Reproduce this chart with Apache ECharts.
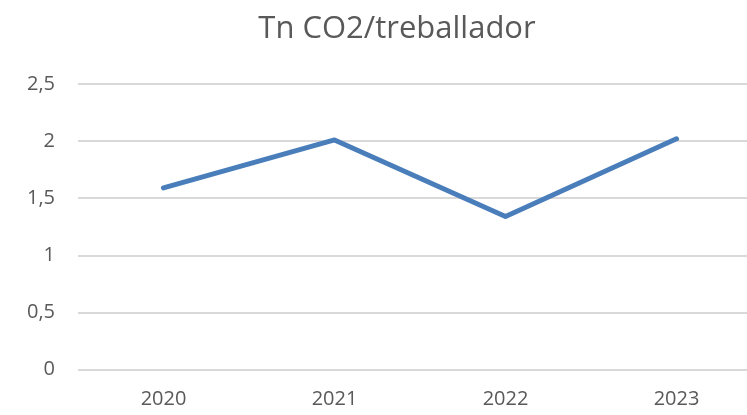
<!DOCTYPE html>
<html>
<head>
<meta charset="utf-8">
<script src="https://cdn.jsdelivr.net/npm/echarts@6/dist/echarts.min.js"></script>
<style>
  html, body { margin: 0; padding: 0; background: #fff; overflow: hidden; }
  /* wider than the window: the original plot area runs past the right edge */
  #chart { width: 765px; height: 415px; }
</style>
</head>
<body>
<div id="chart"></div>
<script>
// Chart data
const years = ['2020', '2021', '2022', '2023'];
const co2PerWorker = [1.59, 2.01, 1.34, 2.02];
const yTicks = [0, 0.5, 1, 1.5, 2, 2.5];

const chart = echarts.init(document.getElementById('chart'), null, { renderer: 'canvas' });

const option = {
  animation: false,
  backgroundColor: '#ffffff',
  title: {
    text: 'Tn CO2/treballador',
    left: 392,
    textAlign: 'center',
    top: 9,
    textStyle: {
      fontFamily: 'Open Sans',
      fontWeight: 'normal',
      fontSize: 31,
      color: '#595959',
    },
  },
  grid: {
    left: 78,
    top: 84,
    right: 3,
    bottom: 45.5,
    containLabel: false,
  },
  xAxis: {
    type: 'category',
    data: years,
    boundaryGap: true,
    axisLine: { show: false },
    axisTick: { show: false },
    axisLabel: {
      color: '#595959',
      fontFamily: 'Open Sans',
      fontSize: 20,
      margin: 20,
    },
  },
  yAxis: {
    type: 'value',
    min: yTicks[0],
    max: yTicks[yTicks.length - 1],
    interval: 0.5,
    axisLine: { show: false },
    axisTick: { show: false },
    splitLine: { lineStyle: { color: '#d9d9d9', width: 2 } },
    axisLabel: {
      color: '#595959',
      fontFamily: 'Open Sans',
      fontSize: 20,
      margin: 23,
      formatter: (v) => String(v).replace('.', ','),
    },
  },
  series: [
    {
      type: 'line',
      data: co2PerWorker,
      symbol: 'none',
      lineStyle: { color: '#4a7ebb', width: 5, cap: 'round', join: 'round' },
    },
  ],
};

chart.setOption(option);
</script>
</body>
</html>
